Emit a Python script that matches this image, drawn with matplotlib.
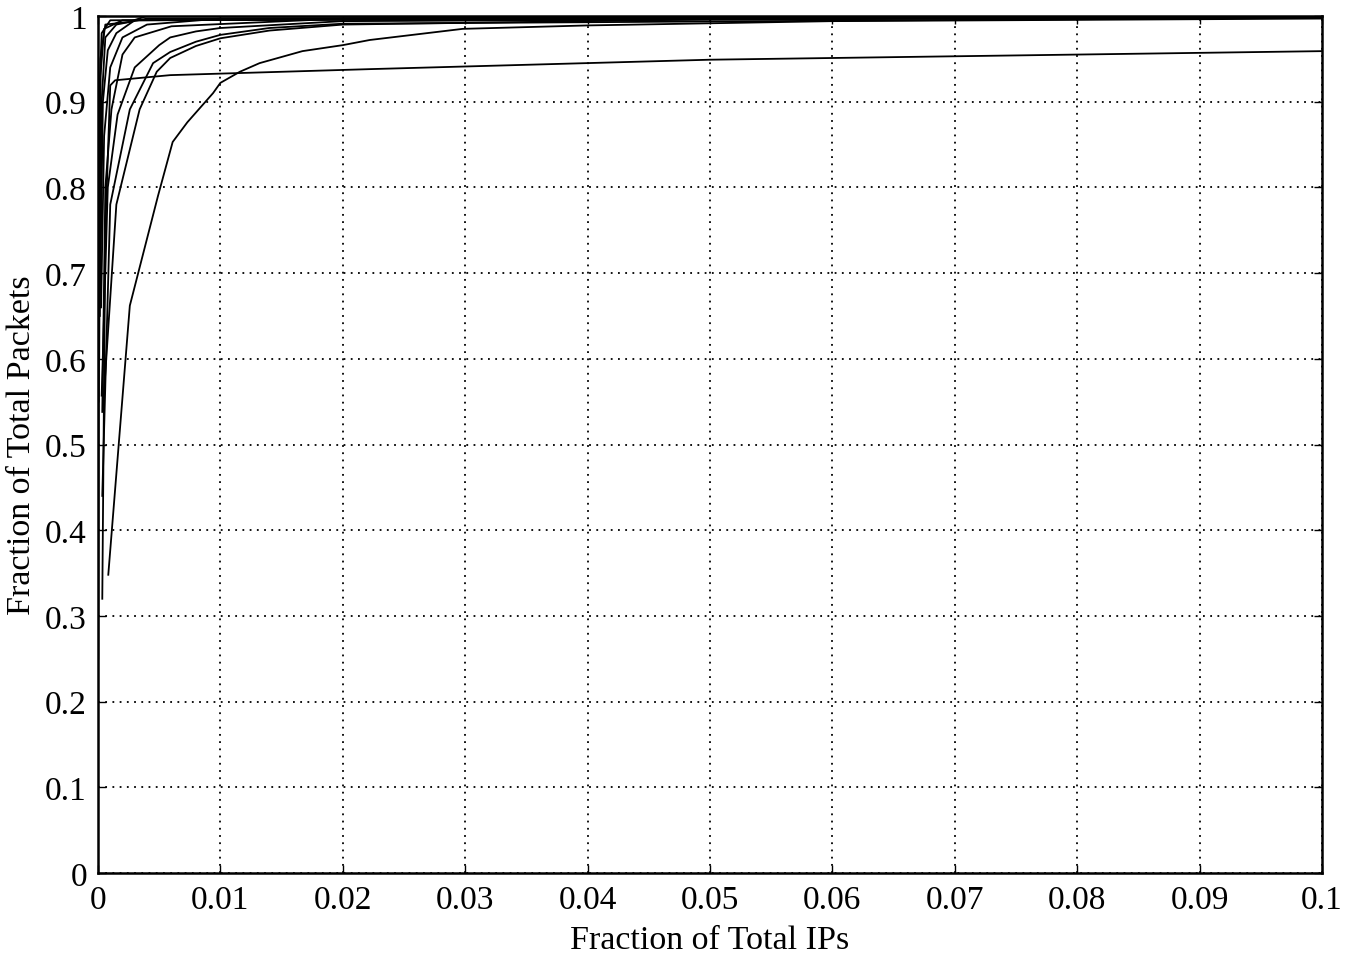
import matplotlib
matplotlib.use("Agg")
import matplotlib.pyplot as plt

plt.rcParams['font.family'] = ['Liberation Serif', 'DejaVu Serif']

# Each series: x = fraction of total IPs, y = fraction of total packets
curve_a_x = [0.00084, 0.0026, 0.0049, 0.0061, 0.0073, 0.0094, 0.0100, 0.0116, 0.0132, 0.0167, 0.0200, 0.0222, 0.0298, 0.0400, 0.0600, 0.1000]
curve_a_y = [0.348, 0.662, 0.790, 0.853, 0.876, 0.910, 0.922, 0.935, 0.945, 0.959, 0.966, 0.972, 0.985, 0.989, 0.994, 0.997]

curve_b_x = [0.0004, 0.0015, 0.0034, 0.0048, 0.0059, 0.0080, 0.0100, 0.0140, 0.0200, 0.0500, 0.1000]
curve_b_y = [0.540, 0.780, 0.891, 0.935, 0.951, 0.965, 0.974, 0.983, 0.990, 0.996, 0.998]

curve_c_x = [0.00035, 0.0010, 0.0026, 0.0045, 0.0059, 0.0080, 0.0100, 0.0140, 0.0200, 0.1000]
curve_c_y = [0.440, 0.780, 0.891, 0.945, 0.958, 0.970, 0.978, 0.986, 0.991, 0.998]

curve_d_x = [0.0003, 0.0008, 0.0016, 0.0030, 0.0050, 0.0059, 0.0080, 0.0100, 0.0200, 0.1000]
curve_d_y = [0.557, 0.800, 0.885, 0.940, 0.966, 0.975, 0.982, 0.986, 0.994, 0.999]

curve_e_x = [0.00035, 0.0006, 0.0010, 0.0014, 0.0059, 0.0222, 0.0500, 0.1000]
curve_e_y = [0.320, 0.750, 0.919, 0.925, 0.931, 0.938, 0.949, 0.959]

curve_f_x = [0.00035, 0.0006, 0.0011, 0.0020, 0.0030, 0.0060, 0.0200, 0.1000]
curve_f_y = [0.538, 0.800, 0.891, 0.955, 0.975, 0.988, 0.997, 0.999]

curve_g_x = [0.00002, 0.0001, 0.0003, 0.0010, 0.1000]
curve_g_y = [0.250, 0.900, 0.980, 0.995, 1.000]

curve_h_x = [0.0001, 0.0002, 0.0005, 0.0020, 0.1000]
curve_h_y = [0.600, 0.930, 0.985, 0.995, 0.999]

curve_i_x = [0.00015, 0.0003, 0.0006, 0.0015, 0.0040, 0.1000]
curve_i_y = [0.650, 0.900, 0.975, 0.990, 0.997, 1.000]

curve_j_x = [0.0002, 0.0004, 0.0008, 0.0015, 0.0030, 0.1000]
curve_j_y = [0.700, 0.900, 0.960, 0.980, 0.995, 0.999]

curve_k_x = [0.00025, 0.0005, 0.0010, 0.0020, 0.0040, 0.0100, 0.1000]
curve_k_y = [0.660, 0.860, 0.940, 0.975, 0.990, 0.997, 0.999]

curve_l_x = [0.00005, 0.0002, 0.0006, 0.0025, 0.0040, 0.1000]
curve_l_y = [0.550, 0.950, 0.990, 0.993, 1.000, 1.000]

series = [
    (curve_a_x, curve_a_y), (curve_b_x, curve_b_y), (curve_c_x, curve_c_y),
    (curve_d_x, curve_d_y), (curve_e_x, curve_e_y), (curve_f_x, curve_f_y),
    (curve_g_x, curve_g_y), (curve_h_x, curve_h_y), (curve_i_x, curve_i_y),
    (curve_j_x, curve_j_y), (curve_k_x, curve_k_y), (curve_l_x, curve_l_y),
]

x_ticks = [0, 0.01, 0.02, 0.03, 0.04, 0.05, 0.06, 0.07, 0.08, 0.09, 0.1]
x_tick_labels = ["0", "0.01", "0.02", "0.03", "0.04", "0.05", "0.06", "0.07", "0.08", "0.09", "0.1"]
y_ticks = [0, 0.1, 0.2, 0.3, 0.4, 0.5, 0.6, 0.7, 0.8, 0.9, 1.0]
y_tick_labels = ["0", "0.1", "0.2", "0.3", "0.4", "0.5", "0.6", "0.7", "0.8", "0.9", "1"]

fig = plt.figure(figsize=(13.46, 9.54), dpi=100)
ax = fig.add_axes([98/1346, 80/954, (1322-98)/1346, (874-17)/954])

for xs, ys in series:
    ax.plot(xs, ys, color='black', linewidth=1.3, clip_on=True)

ax.set_xlim(0, 0.1)
ax.set_ylim(0, 1)
ax.set_xticks(x_ticks)
ax.set_xticklabels(x_tick_labels)
ax.set_yticks(y_ticks)
ax.set_yticklabels(y_tick_labels)
ax.tick_params(direction='in', length=6, width=1.0, labelsize=24, pad=8,
               top=True, right=True, colors='black')
ax.grid(True, color='black', linestyle=(0, (1, 3)), linewidth=1.3)
for s in ax.spines.values():
    s.set_linewidth(1.8)
    s.set_color('black')

ax.set_xlabel("Fraction of Total IPs", fontsize=24.5, labelpad=7)
ax.set_ylabel("Fraction of Total Packets", fontsize=24.5, labelpad=6)

fig.savefig("out.png", dpi=100)
